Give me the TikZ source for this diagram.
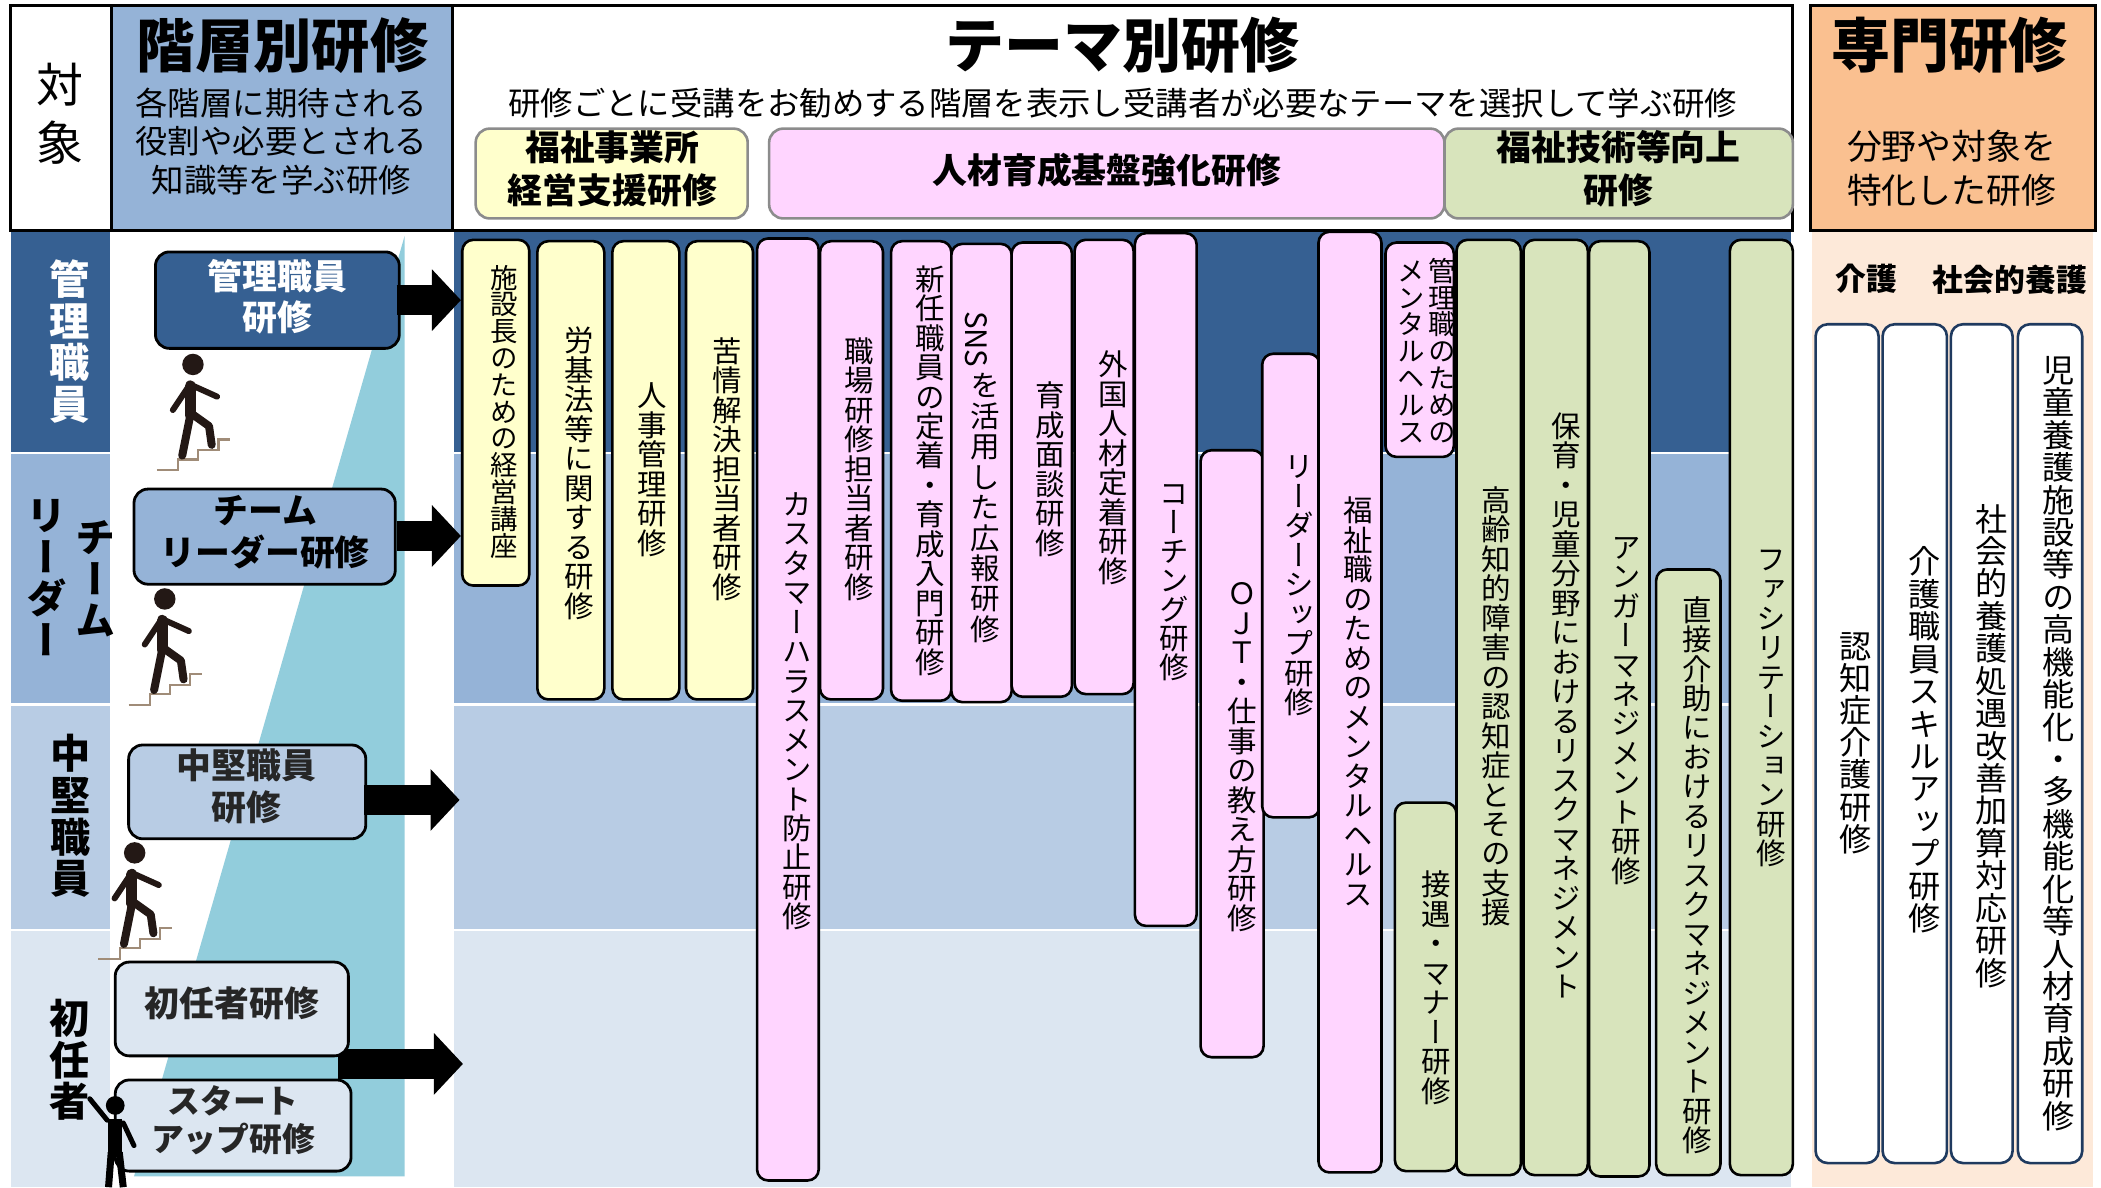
\documentclass[tikz,border=0pt]{standalone}
\usepackage{graphicx}
\usepackage{fontspec}
\setmainfont{Noto Sans CJK JP}
\newfontfamily\vjp[RawFeature=+vert]{Noto Sans CJK JP}
\usetikzlibrary{arrows.meta}
\definecolor{bandA}{HTML}{366092}
\definecolor{bandB}{HTML}{95B3D7}
\definecolor{bandC}{HTML}{B8CCE4}
\definecolor{bandD}{HTML}{DCE6F1}
\definecolor{teal}{HTML}{92CDDC}
\definecolor{yel}{HTML}{FFFFCC}
\definecolor{pnk}{HTML}{FFD5FF}
\definecolor{grn}{HTML}{D8E4BC}
\definecolor{org}{HTML}{FAC090}
\definecolor{peach}{HTML}{FDE9D9}
\definecolor{navy}{HTML}{1F3A5F}
\definecolor{walk}{HTML}{231815}
\definecolor{stair}{HTML}{A08C78}
\newcommand\fs[2]{\fontsize{\fpeval{#1*1.34}pt}{\fpeval{#2*1.34}pt}\selectfont}
\ExplSyntaxOn
\NewDocumentCommand\vtext{mm}{
 \vbox{\offinterlineskip
  \dim_set:Nn\l_tmpa_dim{\fp_eval:n{#1*1.34}pt}
  \tl_map_inline:nn{#2}{\hbox to 2\l_tmpa_dim{\hss\vrule width 0pt height\l_tmpa_dim depth 0pt\raise\dim_eval:n{0.5\l_tmpa_dim-0.38em}\hbox{\smash{##1}}\hss}}
 }
}
\ExplSyntaxOff
\tikzset{
 x=1.33992pt,y=-1.33992pt,
 headbox/.style={draw=black,line width=2.8pt},
 catbox/.style={draw=gray!90,line width=2.6pt,rounded corners=14pt},
 lvbox/.style={draw=black,line width=2.8pt,rounded corners=14pt},
 ybar/.style={draw=black,line width=2.6pt,rounded corners=11pt,fill=yel},
 pbar/.style={draw=black,line width=2.6pt,rounded corners=11pt,fill=pnk},
 gbar/.style={draw=black,line width=2.6pt,rounded corners=11pt,fill=grn},
 wbar/.style={draw=navy,line width=2.6pt,rounded corners=12pt,fill=white},
 vt/.style={inner sep=0pt,anchor=north,font=\vjp\fs{22}{22}},
 wvt/.style={inner sep=0pt,anchor=north,font=\vjp\fs{24}{24}},
 side/.style={inner sep=0pt,anchor=center,font=\vjp\bfseries\fs{30}{31}},
 ht/.style={inner sep=0pt,align=center},
 lvt/.style={inner sep=0pt,align=center,font=\bfseries\fs{26}{31}},
 cat/.style={inner sep=0pt,align=center,font=\bfseries\fs{26}{31.5}},
 blockarrow/.style={line width=29.5pt,-{Triangle[length=29pt,width=60pt]}},
}
\newcommand\barbox[9]{%
 \draw[#5] (#1,#2) rectangle (#3,#4);
 \node[vt] (#6) at (#7,#8) {\vtext#9};}
\newcommand\wbarbox[8]{%
 \draw[wbar] (#1,#2) rectangle (#3,#4);
 \node[wvt] (#5) at (#6,#7) {\vtext#8};}
\newcommand\walker[2]{%
 \begin{scope}[shift={(#1,#2)}]
 \draw[stair,line width=2.2pt] (-27,79)--(-11,79)--(-11,71)--(4,71)--(4,64)--(19,64)--(19,56)--(28,56);
 \fill[walk] (0,0) circle (8);
 \draw[walk,line width=6pt,line cap=round] (-2,15)--(18,24);
 \draw[walk,line width=6pt,line cap=round] (-3,16)--(-15,34);
 \draw[walk,line width=11pt,line cap=round] (-2,16)--(-2,38);
 \draw[walk,line width=8pt,line cap=round,line join=round] (-2,38)--(-8,68);
 \draw[walk,line width=8pt,line cap=round,line join=round] (-2,36)--(12,46)--(14,60);
 \end{scope}}
\begin{document}
\begin{tikzpicture}
\useasboundingbox (0,0) rectangle (1568,886);
\fill[white] (0,0) rectangle (1568,886);
% bands
\fill[bandA] (8,172) rectangle (82,337);
\fill[bandB] (8,339) rectangle (82,525);
\fill[bandC] (8,527) rectangle (82,693);
\fill[bandD] (8,695) rectangle (82,886);
\fill[bandA] (339,172) rectangle (1337,337);
\fill[bandB] (339,339) rectangle (1337,525);
\fill[bandC] (339,527) rectangle (1337,693);
\fill[bandD] (339,695) rectangle (1337,886);
\fill[peach] (1352,172) rectangle (1562,886);
\fill[teal] (302,176)--(302,878)--(100,878)--cycle;
% header
\draw[headbox,fill=white] (8,4) rectangle (83,172);
\draw[headbox,fill=bandB] (83,4) rectangle (338,172);
\draw[headbox,fill=white] (338,4) rectangle (1338,172);
\draw[headbox,fill=org] (1351,4) rectangle (1564,172);
\node[ht,font=\fs{35}{43}] (h0) at (45,85) {対\\象};
\node[ht,font=\bfseries\fs{43.5}{50}] (h1) at (211,34) {階層別研修};
\node[ht,font=\fs{24.2}{28.7}] (h1s) at (210,105.5) {各階層に期待される\\役割や必要とされる\\知識等を学ぶ研修};
\node[ht,font=\bfseries\fs{44}{50}] (h2) at (838,34) {テーマ別研修};
\node[ht,font=\fs{24.15}{28}] (h2s) at (838,77) {研修ごとに受講をお勧めする階層を表示し受講者が必要なテーマを選択して学ぶ研修};
\node[ht,font=\bfseries\fs{44}{50}] (h3) at (1455,34) {専門研修};
\node[ht,font=\fs{26}{33}] (h3s) at (1456.5,125.5) {分野や対象を\\特化した研修};
\draw[catbox,fill=yel] (355,96) rectangle (558,163);
\node[cat] (c1) at (457,126) {福祉事業所\\経営支援研修};
\draw[catbox,fill=pnk] (574,96) rectangle (1078,163);
\node[cat] (c2) at (826,127) {人材育成基盤強化研修};
\draw[catbox,fill=grn] (1078,96) rectangle (1338,163);
\node[cat] (c3) at (1208,126) {福祉技術等向上\\研修};
% side labels
\node[side,text=white] (s1) at (52,255) {\vtext{31}{管理職員}};
\node[side] (s2a) at (71,432) {\vtext{31}{チーム}};
\node[side] (s2b) at (35,431) {\vtext{31}{リーダー}};
\node[side] (s3) at (53,609) {\vtext{31}{中堅職員}};
\node[side] (s4) at (52,791) {\vtext{31}{初任者}};
% level boxes
\coordinate (a3s) at (272,597);\coordinate (a4s) at (252,794);
\coordinate (a1e) at (344,224);\coordinate (a2e) at (344,400);
\coordinate (a3e) at (343,597);\coordinate (a4e) at (345.5,794);
\draw[blockarrow] (a4s) -- (a4e);
\draw[lvbox,fill=bandA] (116,188) rectangle (298,260);
\node[lvt,text=white] (l1) at (207,221.5) {管理職員\\研修};
\draw[lvbox,fill=bandB] (100,365) rectangle (295,436);
\node[lvt] (l2) at (198,397) {チーム\\リーダー研修};
\draw[lvbox,fill=bandC] (96,556) rectangle (273,626);
\node[lvt,text=black!85] (l3) at (184,587) {中堅職員\\研修};
\draw[lvbox,fill=bandD] (86,718) rectangle (260,788);
\node[lvt,text=black!85] (l4) at (173,749) {初任者研修};
\draw[lvbox,fill=bandD] (86,806) rectangle (262,874);
\node[lvt,font=\bfseries\fs{24.5}{28},text=black!85] (l5) at (174,836) {スタート\\アップ研修};
\coordinate (a1s) at (296,224);\coordinate (a2s) at (296,400);
\draw[blockarrow] (a1s) -- (a1e);
\draw[blockarrow] (a2s) -- (a2e);
\draw[blockarrow] (a3s) -- (a3e);
% figures
\walker{144}{272}
\walker{123}{447}
\walker{100.5}{636.5}
\fill[black] (86,825) circle (7);
\draw[black,line width=5pt,line cap=round] (80,836)--(67,820);
\draw[black,line width=5pt,line cap=round] (92,838)--(100,855);
\draw[black,line width=14pt] (86,835)--(86,862);
\draw[black,line width=7pt] (83,860)--(81,886);
\draw[black,line width=7pt] (89,860)--(92,886);
% theme bars
\draw[ybar] (345,179) rectangle (395,437);
\node[vt,font=\vjp\fs{20.5}{20}] (t1) at (376,197) {\vtext{20}{施設長のための経営講座}};
\barbox{401}{180}{451}{522}{ybar}{t2}{432}{243}{{22}{労基法等に関する研修}}
\barbox{457}{180}{507}{522}{ybar}{t3}{487}{284}{{22}{人事管理研修}}
\barbox{512}{180}{562}{522}{ybar}{t4}{543}{251}{{22}{苦情解決担当者研修}}
\barbox{565}{178}{611}{881}{pbar}{t5}{595}{365}{{22}{カスタマーハラスメント防止研修}}
\barbox{612}{180}{659}{522}{pbar}{t6}{641}{251}{{22}{職場研修担当者研修}}
\barbox{665}{180}{710}{523}{pbar}{t7}{694}{197}{{22}{新任職員の定着・育成入門研修}}
\draw[pbar] (710,182) rectangle (755,524);
\node[vt] (t8) at (735,232) {\vbox{\hbox to 44pt{\hss\rotatebox{-90}{SNS}\hss}\kern2pt\vtext{22.7}{を活用した広報研修}}};
\barbox{755}{181}{800}{520}{pbar}{t9}{784}{284}{{22}{育成面談研修}}
\barbox{802}{179}{846}{518}{pbar}{t10}{831}{261}{{22}{外国人材定着研修}}
\barbox{847}{174}{893}{691}{pbar}{t11}{876}{357}{{21.7}{コーチング研修}}
\barbox{896}{336}{943}{789}{pbar}{t12}{927}{432}{{22}{ＯＪＴ・仕事の教え方研修}}
\barbox{942}{264}{985}{610}{pbar}{t13}{970}{337}{{22}{リーダーシップ研修}}
\barbox{984}{173}{1031}{875}{pbar}{t14}{1014}{370}{{22}{福祉職のためのメンタルヘルス}}
\draw[pbar] (1034,181) rectangle (1085,341);
\node[vt,font=\vjp\fs{20.5}{20}] (t15b) at (1076,192) {\vtext{20}{管理職のための}};
\node[vt,font=\vjp\fs{20.5}{20}] (t15a) at (1053,192) {\vtext{20}{メンタルヘルス}};
\barbox{1041}{599}{1087}{874}{gbar}{t16}{1072}{649}{{22}{接遇・マナー研修}}
\barbox{1087}{179}{1135}{877}{gbar}{t17}{1117}{362}{{22}{高齢知的障害の認知症とその支援}}
\barbox{1137}{179}{1185}{877}{gbar}{t18}{1169}{307}{{22}{保育・児童分野におけるリスクマネジメント}}
\barbox{1186}{180}{1231}{878}{gbar}{t19}{1214}{397}{{22}{アンガーマネジメント研修}}
\barbox{1236}{425}{1284}{877}{gbar}{t20}{1267}{444}{{22}{直接介助におけるリスクマネジメント研修}}
\barbox{1291}{179}{1338}{877}{gbar}{t21}{1322}{406}{{22}{ファシリテーション研修}}
% specialist
\node[ht,font=\bfseries\fs{23}{26}] (p1) at (1393,208) {介護};
\node[ht,font=\bfseries\fs{23}{26}] (p2) at (1500,209) {社会的養護};
\wbarbox{1355}{242}{1402}{868}{w1}{1385}{470}{{24}{認知症介護研修}}
\wbarbox{1405}{242}{1453}{868}{w2}{1436}{407}{{24.2}{介護職員スキルアップ研修}}
\wbarbox{1456}{242}{1502}{868}{w3}{1486}{375}{{24.2}{社会的養護処遇改善加算対応研修}}
\wbarbox{1506}{242}{1554}{868}{w4}{1536}{264}{{24.2}{児童養護施設等の高機能化・多機能化等人材育成研修}}
\end{tikzpicture}
\end{document}
